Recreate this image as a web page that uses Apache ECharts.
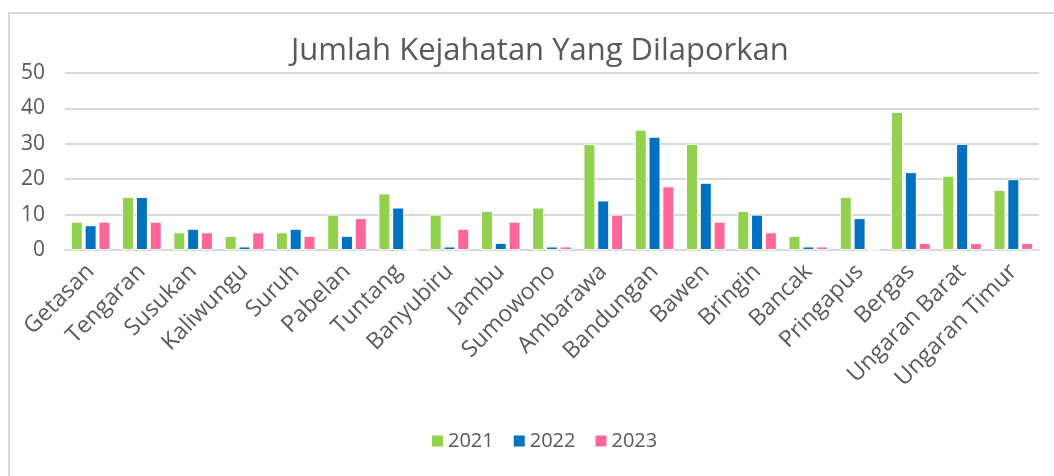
<!DOCTYPE html>
<html>
<head>
	<meta charset="utf-8">
	<title>Jumlah Kejahatan</title>
	<style type="text/css">
		body { margin: 0; padding: 0; background: #fff; }
		.frame {
			position: absolute;
			left: 8px; top: 12px;
			width: 1100px; height: 500px;
			border-left: 2px solid #d9d9d9;
			border-top: 2px solid #d9d9d9;
		}
		#main { position: absolute; left: 0; top: 0; width: 1054px; height: 476px; }
	</style>
	<script src="https://cdn.jsdelivr.net/npm/echarts@6/dist/echarts.min.js"></script>
</head>
<body>
	<div class="frame"></div>
	<div id="main"></div>
	<script type="text/javascript">
		// kecamatan
		var kecamatan = ['Getasan', 'Tengaran', 'Susukan', 'Kaliwungu', 'Suruh', 'Pabelan', 'Tuntang',
			'Banyubiru', 'Jambu', 'Sumowono', 'Ambarawa', 'Bandungan', 'Bawen', 'Bringin', 'Bancak',
			'Pringapus', 'Bergas', 'Ungaran Barat', 'Ungaran Timur'];
		var tahun = ['2021', '2022', '2023'];
		var data2021 = [8, 15, 5, 4, 5, 10, 16, 10, 11, 12, 30, 34, 30, 11, 4, 15, 39, 21, 17];
		var data2022 = [7, 15, 6, 1, 6, 4, 12, 1, 2, 1, 14, 32, 19, 10, 1, 9, 22, 30, 20];
		var data2023 = [8, 8, 5, 5, 4, 9, 0, 6, 8, 1, 10, 18, 8, 5, 1, 0, 2, 2, 2];
		var warna = ['#92D050', '#0070C0', '#FF6699'];

		var font = '"Open Sans", sans-serif';
		var allData = [data2021, data2022, data2023];
		var series = tahun.map(function (t, i) {
			return {
				name: t,
				type: 'bar',
				data: allData[i],
				barWidth: 12,
				barGap: '15%',
				itemStyle: { color: warna[i], borderColor: '#fff', borderWidth: 1 }
			};
		});

		var chart = echarts.init(document.getElementById('main'));
		chart.setOption({
			animation: false,
			title: {
				text: 'Jumlah Kejahatan Yang Dilaporkan',
				left: 286,
				top: 31,
				textStyle: { fontFamily: font, fontSize: 31, fontWeight: 'normal', color: '#595959' }
			},
			legend: {
				data: tahun,
				bottom: 20,
				left: 425,
				itemWidth: 13,
				itemHeight: 13,
				itemGap: 18,
				icon: 'rect',
				textStyle: { fontFamily: font, fontSize: 20, color: '#595959', padding: [0, 0, 0, -1] }
			},
			grid: { left: 65, right: 15, top: 73, bottom: 226 },
			xAxis: {
				type: 'category',
				data: kecamatan,
				axisLine: { lineStyle: { color: '#d9d9d9', width: 2 } },
				axisTick: { show: false },
				axisLabel: {
					rotate: 45,
					interval: 0,
					margin: 18,
					fontFamily: font,
					fontSize: 23,
					color: '#595959'
				}
			},
			yAxis: {
				type: 'value',
				min: 0,
				max: 50,
				interval: 10,
				axisLine: { show: false },
				axisTick: { show: false },
				splitLine: { lineStyle: { color: '#d9d9d9', width: 2 } },
				axisLabel: { margin: 20, fontFamily: font, fontSize: 21, color: '#595959' }
			},
			series: series
		});
	</script>
</body>
</html>
